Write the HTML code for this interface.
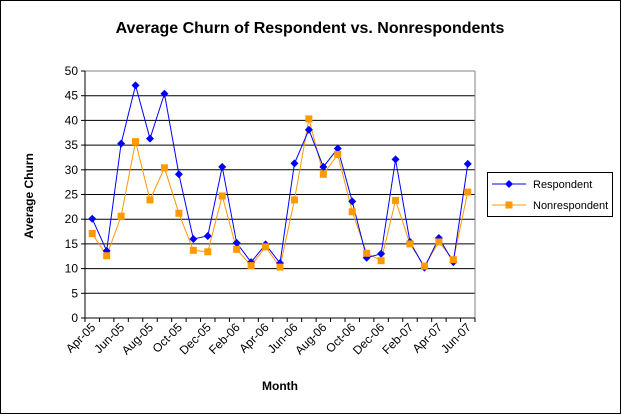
<!DOCTYPE html><html><head><style>body{margin:0;background:#fff}svg{display:block;font-family:"Liberation Sans",Arial,sans-serif}</style></head><body>
<svg width="621" height="414" viewBox="0 0 621 414" xmlns="http://www.w3.org/2000/svg">
<rect x="0.5" y="0.5" width="620" height="413" fill="#fff" stroke="#000"/>
<text x="310" y="33" text-anchor="middle" font-size="16" font-weight="bold">Average Churn of Respondent vs. Nonrespondents</text>
<g id="g"></g>
<text x="33" y="196" font-size="12" font-weight="bold" text-anchor="middle" transform="rotate(-90 33 196)">Average Churn</text>
<text x="280" y="390" font-size="12" font-weight="bold" text-anchor="middle">Month</text>
<rect x="487.5" y="172.5" width="125" height="44" fill="#fff" stroke="#000"/>
<line x1="492" y1="184" x2="526" y2="184" stroke="#0000ff"/><path d="M509 180l4 4-4 4-4-4z" fill="#0000ff"/>
<text x="533" y="188" font-size="11">Respondent</text>
<line x1="492" y1="205" x2="526" y2="205" stroke="#ff9900"/><rect x="505.5" y="201.5" width="7" height="7" fill="#ff9900"/>
<text x="533" y="209" font-size="11">Nonrespondent</text>
</svg>
<script>
const g=document.getElementById('g');let s='';
const L=85,R=475,T=71,B=318,n=27,w=(R-L)/n;const Y=v=>B-(B-T)*v/50;
for(let v=0;v<=50;v+=5){const y=Y(v);if(v>0&&v<50)s+=`<line x1="${L}" y1="${y}" x2="${R}" y2="${y}" stroke="#000"/>`;s+=`<line x1="${L-4}" y1="${y}" x2="${L}" y2="${y}" stroke="#000"/><text x="${L-7}" y="${y+4}" font-size="12" text-anchor="end">${v}</text>`;}
s+=`<line x1="${L}" y1="${T}" x2="${R}" y2="${T}" stroke="#808080"/><line x1="${R}" y1="${T}" x2="${R}" y2="${B}" stroke="#808080"/>`;
s+=`<line x1="${L}" y1="${T}" x2="${L}" y2="${B}" stroke="#000"/><line x1="${L}" y1="${B}" x2="${R}" y2="${B}" stroke="#000"/>`;
for(let i=0;i<=n;i++){const x=L+i*w;s+=`<line x1="${x}" y1="${B}" x2="${x}" y2="${B+4}" stroke="#000"/>`;}
const labs=["Apr-05","Jun-05","Aug-05","Oct-05","Dec-05","Feb-06","Apr-06","Jun-06","Aug-06","Oct-06","Dec-06","Feb-07","Apr-07","Jun-07"];
const idx=[0,2,4,6,8,10,12,14,16,18,20,22,24,26];
idx.forEach((k,j)=>{const x=L+(k+0.5)*w+4,y=B+10;s+=`<text x="${x}" y="${y}" font-size="12" text-anchor="end" transform="rotate(-45 ${x} ${y})">${labs[j]}</text>`;});
const r=[20.1,13.6,35.3,47.1,36.3,45.4,29.1,16,16.6,30.6,15.2,11.3,14.9,11.1,31.3,38.1,30.6,34.3,23.6,12.2,13,32.1,15.4,10.2,16.2,11.3,31.2];
const nr=[17.1,12.6,20.6,35.7,23.9,30.4,21.2,13.7,13.4,24.7,13.9,10.6,14.4,10.3,23.9,40.3,29.1,33.1,21.5,13.1,11.6,23.8,15.0,10.5,15.4,11.8,25.5];
const X=i=>L+(i+0.5)*w;
s+=`<polyline fill="none" stroke="#ff9900" stroke-width="1" points="${nr.map((v,i)=>X(i)+','+Y(v)).join(' ')}"/>`;
s+=`<polyline fill="none" stroke="#0000ff" stroke-width="1" points="${r.map((v,i)=>X(i)+','+Y(v)).join(' ')}"/>`;
r.forEach((v,i)=>{const x=X(i),y=Y(v);s+=`<path d="M${x} ${y-4}l4 4-4 4-4-4z" fill="#0000ff"/>`;});
nr.forEach((v,i)=>{const x=X(i),y=Y(v);s+=`<rect x="${x-3.5}" y="${y-3.5}" width="7" height="7" fill="#ff9900"/>`;});
g.innerHTML=s;
</script>
</body></html>
